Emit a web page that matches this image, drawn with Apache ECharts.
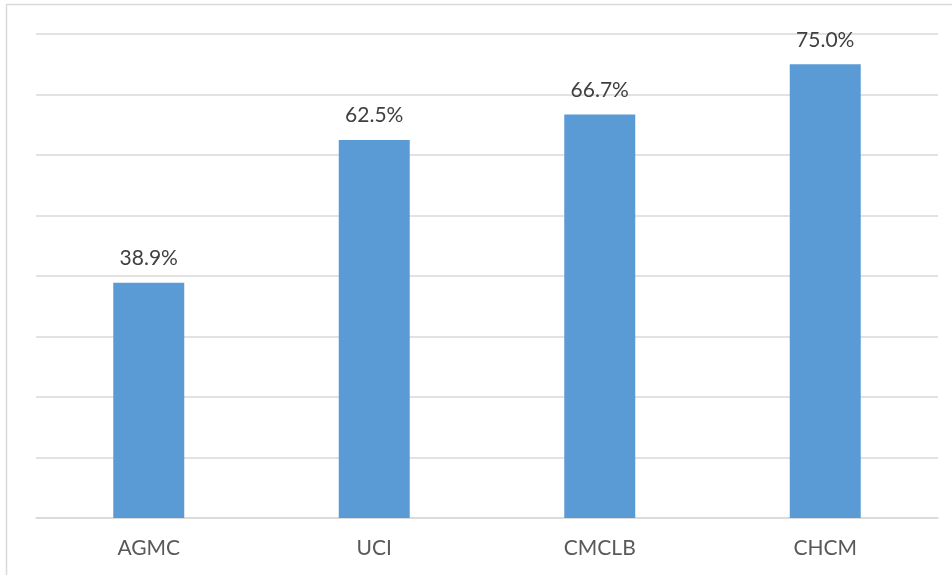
<!DOCTYPE html>
<html>
<head>
<meta charset="utf-8">
<script src="https://cdn.jsdelivr.net/npm/echarts@6/dist/echarts.min.js"></script>
<style>
  html, body { margin: 0; padding: 0; background: #ffffff; }
  #chart { width: 952px; height: 575px; }
</style>
</head>
<body>
<div id="chart"></div>
<script>
// Hospitals and their percentages
const categories = ['AGMC', 'UCI', 'CMCLB', 'CHCM'];
const values = [38.9, 62.5, 66.7, 75.0];
const yTicks = { min: 0, max: 80, interval: 10 };

const chart = echarts.init(document.getElementById('chart'), null, { renderer: 'canvas' });

chart.setOption({
  animation: false,
  backgroundColor: '#ffffff',
  textStyle: { fontFamily: 'Lato, "Open Sans", sans-serif' },
  graphic: [
    {
      type: 'rect',
      shape: { x: 6.5, y: 4.5, width: 1200, height: 1200 },
      style: { fill: 'none', stroke: '#d9d9d9', lineWidth: 1.5 },
      silent: true
    }
  ],
  grid: { left: 36, right: 14, top: 34, bottom: 57 },
  xAxis: {
    type: 'category',
    data: categories,
    axisTick: { show: false },
    axisLine: { show: true, lineStyle: { color: '#d9d9d9', width: 1.5 } },
    axisLabel: { color: '#595959', fontSize: 21, margin: 20, fontFamily: 'Lato, sans-serif' }
  },
  yAxis: {
    type: 'value',
    min: yTicks.min,
    max: yTicks.max,
    interval: yTicks.interval,
    axisLabel: { show: false },
    axisLine: { show: false },
    axisTick: { show: false },
    splitLine: { lineStyle: { color: '#d9d9d9', width: 1.5 } }
  },
  series: [
    {
      type: 'bar',
      data: values,
      barWidth: 71,
      itemStyle: { color: '#5b9bd5' },
      label: {
        show: true,
        position: 'top',
        distance: 14,
        color: '#404040',
        fontSize: 21,
        fontFamily: 'Lato, sans-serif',
        formatter: p => p.value.toFixed(1) + '%'
      }
    }
  ]
});
</script>
</body>
</html>
